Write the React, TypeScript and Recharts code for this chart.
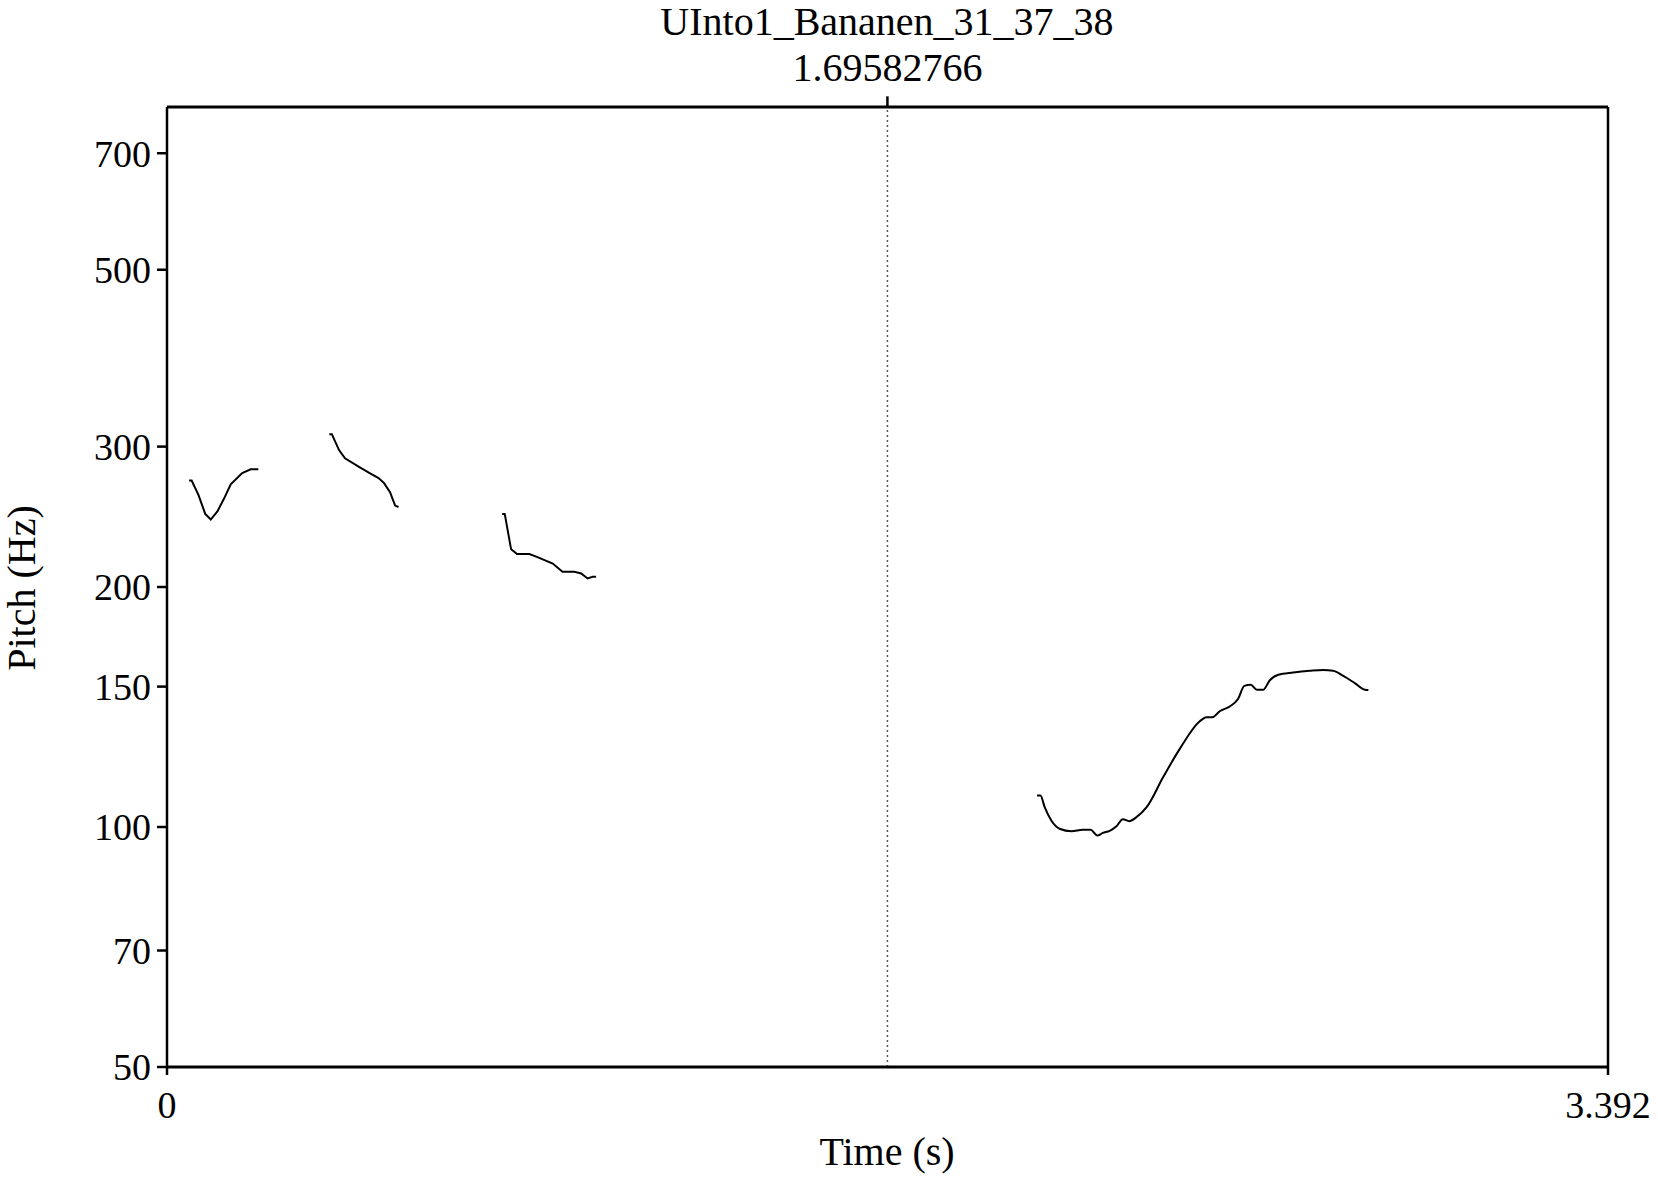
import { LineChart, Line, XAxis, YAxis, ReferenceLine } from "recharts";

// Praat pitch contour, log-frequency axis
const titleText = "UInto1_Bananen_31_37_38";
const cursorTime = 1.69582766;
const timeTicks = [0, 3.392];
const pitchTicks = [50, 70, 100, 150, 200, 300, 500, 700];

const seg1Time = [0.052, 0.058, 0.074, 0.09, 0.103, 0.119, 0.134, 0.15, 0.177, 0.197, 0.215];
const seg1Pitch = [272, 272, 261, 247, 243, 249, 258, 269, 278, 281, 281];

const seg2Time = [0.382, 0.388, 0.405, 0.419, 0.452, 0.476, 0.498, 0.511, 0.525, 0.537, 0.545];
const seg2Pitch = [311, 311, 297, 290, 283, 278, 274, 270, 263, 253, 252];

const seg3Time = [0.789, 0.795, 0.81, 0.824, 0.853, 0.872, 0.908, 0.931, 0.959, 0.975, 0.99, 1.002, 1.01];
const seg3Pitch = [247, 247, 223, 220, 220, 218, 214, 209, 209, 208, 205, 206, 206];

const seg4Time = [
  2.048, 2.056, 2.066, 2.082, 2.101, 2.129, 2.156, 2.174, 2.19, 2.203, 2.219, 2.235, 2.25,
  2.265, 2.282, 2.306, 2.345, 2.384, 2.431, 2.447, 2.461, 2.478, 2.502, 2.521, 2.536, 2.551,
  2.566, 2.58, 2.596, 2.616, 2.651, 2.69, 2.722, 2.745, 2.769, 2.796, 2.82, 2.828
];
const seg4Pitch = [
  109.5, 109.5, 105.9, 101.8, 99.5, 98.8, 99.2, 99.2, 97.6, 98.3, 98.9, 100.2, 102.3,
  101.7, 102.9, 105.9, 115.5, 125.3, 135.7, 137.3, 137.3, 139.7, 141.7, 144.7, 150.3, 150.8,
  148.6, 148.6, 152.8, 155.2, 156.2, 157, 157.4, 157, 154.7, 151.5, 148.6, 148.5
];

const toPoints = (ts: number[], hz: number[]) => ts.map((t, i) => ({ t, hz: hz[i] }));

const segments = [
  { data: toPoints(seg1Time, seg1Pitch), curve: "linear" },
  { data: toPoints(seg2Time, seg2Pitch), curve: "linear" },
  { data: toPoints(seg3Time, seg3Pitch), curve: "linear" },
  { data: toPoints(seg4Time, seg4Pitch), curve: "monotone" }
];

const FONT = "'Liberation Serif', 'Times New Roman', serif";
const W = 1658;
const H = 1179;

export default function App() {
  return (
    <div style={{ position: "absolute", left: 0, top: 0, width: W, height: H, background: "#fff" }}>
      <LineChart
        width={W}
        height={H}
        margin={{ top: 107, right: 50, bottom: 0, left: 0 }}
      >
        <XAxis
          dataKey="t"
          type="number"
          domain={[0, 3.392]}
          ticks={timeTicks}
          allowDataOverflow
          height={112}
          tickSize={8}
          tickMargin={16}
          axisLine={{ stroke: "#000", strokeWidth: 3 }}
          tickLine={{ stroke: "#000", strokeWidth: 2.5 }}
          tick={{ fill: "#000", fontSize: 38, fontFamily: FONT }}
          tickFormatter={(v: number) => String(v)}
        />
        <YAxis
          dataKey="hz"
          type="number"
          scale="log"
          domain={[50, 800]}
          ticks={pitchTicks}
          allowDataOverflow
          width={167}
          tickSize={10}
          tickMargin={6}
          axisLine={{ stroke: "#000", strokeWidth: 2.5 }}
          tickLine={{ stroke: "#000", strokeWidth: 2.5 }}
          tick={{ fill: "#000", fontSize: 38, fontFamily: FONT }}
        />
        <ReferenceLine y={800} stroke="#000" strokeWidth={3} />
        <ReferenceLine x={3.392} stroke="#000" strokeWidth={2.5} />
        <ReferenceLine x={cursorTime} stroke="#555" strokeWidth={1.5} strokeDasharray="2 3" />
        <ReferenceLine
          segment={[{ x: cursorTime, y: 800 }, { x: cursorTime, y: 825 }]}
          ifOverflow="visible"
          stroke="#000"
          strokeWidth={2.5}
        />
        {segments.map((s, i) => (
          <Line
            key={i}
            data={s.data}
            dataKey="hz"
            type={s.curve as any}
            stroke="#000"
            strokeWidth={2}
            dot={false}
            activeDot={false}
            isAnimationActive={false}
          />
        ))}
      </LineChart>
      <svg
        width={W}
        height={H}
        style={{ position: "absolute", left: 0, top: 0, pointerEvents: "none" }}
        fontFamily={FONT}
        fontSize={40}
        fill="#000"
      >
        <text x={887} y={35} textAnchor="middle">{titleText}</text>
        <text x={887.5} y={81} textAnchor="middle">{String(cursorTime)}</text>
        <text x={887} y={1165} textAnchor="middle">Time (s)</text>
        <text x={35} y={588} textAnchor="middle" transform="rotate(-90 35 588)">Pitch (Hz)</text>
      </svg>
    </div>
  );
}
